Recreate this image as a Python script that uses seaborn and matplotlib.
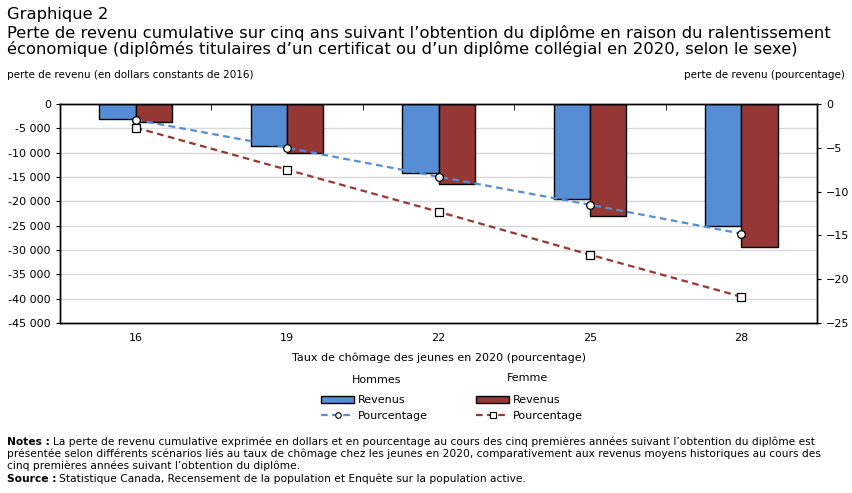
import numpy as np
import pandas as pd
import seaborn as sns
import matplotlib.pyplot as plt
from matplotlib.ticker import FuncFormatter, FixedLocator, MultipleLocator
from matplotlib.lines import Line2D
from matplotlib.patches import Patch

# données
taux = ['16', '19', '22', '25', '28']
revenu_hommes = [-3150, -8700, -14250, -19600, -25150]
revenu_femmes = [-3750, -10150, -16500, -23100, -29450]
pct_hommes = [-1.8, -5.0, -8.3, -11.5, -14.8]
pct_femmes = [-2.7, -7.5, -12.3, -17.2, -22.0]

bleu = '#558ed5'
rouge = '#953735'

sns.set_style('white')
plt.rcParams['font.family'] = ['DejaVu Sans']
plt.rcParams['text.color'] = 'black'
plt.rcParams['xtick.color'] = 'black'
plt.rcParams['ytick.color'] = 'black'
plt.rcParams['axes.labelcolor'] = 'black'

rev = pd.DataFrame({'taux': taux * 2,
                    'revenu': revenu_hommes + revenu_femmes,
                    'sexe': ['Hommes'] * 5 + ['Femme'] * 5})
pct = pd.DataFrame({'taux': taux * 2,
                    'pct': pct_hommes + pct_femmes,
                    'sexe': ['Hommes'] * 5 + ['Femme'] * 5})

fig = plt.figure(figsize=(8.52, 4.93), dpi=100)
ax = fig.add_axes([60 / 852, 1 - 323 / 493, 757 / 852, 219 / 493])

sns.barplot(data=rev, x='taux', y='revenu', hue='sexe', palette=[bleu, rouge], saturation=1,
            width=0.48, edgecolor='black', linewidth=1, ax=ax, legend=False, zorder=2)
ax.set_ylim(-45000, 0)
ax.set_xlim(-0.5, 4.5)
ax.yaxis.set_major_locator(MultipleLocator(5000))
ax.yaxis.set_major_formatter(FuncFormatter(lambda v, p: '0' if v == 0 else f'{int(v):,}'.replace(',', ' ')))
ax.grid(axis='y', color='#d9d9d9', linewidth=1, zorder=0)
ax.set_axisbelow(True)
ax.set_xlabel('Taux de chômage des jeunes en 2020 (pourcentage)', fontsize=8, labelpad=7)
ax.set_ylabel('')
ax.tick_params(axis='y', labelsize=8, length=3, left=True)
ax.tick_params(axis='x', which='major', labelsize=8, length=0, pad=7)
ax.xaxis.set_minor_locator(FixedLocator([0.5, 1.5, 2.5, 3.5]))
ax.tick_params(axis='x', which='minor', top=True, bottom=False, direction='in', length=4, color='black')
for s in ax.spines.values():
    s.set_color('black')
    s.set_linewidth(1)

ax2 = ax.twinx()
sns.pointplot(data=pct, x='taux', y='pct', hue='sexe', palette=[bleu, rouge],
              markers=['o', 's'], linestyles=['--', '--'], linewidth=1.6,
              markersize=5.5, ax=ax2, legend=False)
for ln in ax2.lines:
    ln.set_markerfacecolor('white')
    ln.set_markeredgecolor('black')
    ln.set_markeredgewidth(0.9)
    ln.set_dashes((3, 2))
    ln.set_zorder(5)
ax2.set_ylim(-25, 0)
ax2.set_xlim(-0.5, 4.5)
ax2.yaxis.set_major_locator(MultipleLocator(5))
ax2.set_ylabel('')
ax2.set_xlabel('')
ax2.tick_params(axis='y', labelsize=8, length=3, right=True)
for s in ax2.spines.values():
    s.set_color('black')
    s.set_linewidth(1)

# titres
fig.text(7 / 852, 1 - 7 / 493, 'Graphique 2', fontsize=11.8, va='top')
fig.text(7 / 852, 1 - 25 / 493,
         'Perte de revenu cumulative sur cinq ans suivant l’obtention du diplôme en raison du ralentissement\n'
         'économique (diplômés titulaires d’un certificat ou d’un diplôme collégial en 2020, selon le sexe)',
         fontsize=11.8, va='top', linespacing=1.02)
fig.text(7 / 852, 1 - 75 / 493, 'perte de revenu (en dollars constants de 2016)', fontsize=7.5, va='center')
fig.text(845 / 852, 1 - 75 / 493, 'perte de revenu (pourcentage)', fontsize=7.5, va='center', ha='right')

# légendes
fig.text(377 / 852, 1 - 380 / 493, 'Hommes', fontsize=8, ha='center', va='center')
fig.text(527 / 852, 1 - 378 / 493, 'Femme', fontsize=8, ha='center', va='center')
h_hommes = [Patch(facecolor=bleu, edgecolor='black', linewidth=1),
            Line2D([], [], color=bleu, ls=(0, (3, 2)), lw=1.6, marker='o', markersize=4,
                   markerfacecolor='white', markeredgecolor='black', markeredgewidth=0.8)]
h_femmes = [Patch(facecolor=rouge, edgecolor='black', linewidth=1),
            Line2D([], [], color=rouge, ls=(0, (3, 2)), lw=1.6, marker='s', markersize=4,
                   markerfacecolor='white', markeredgecolor='black', markeredgewidth=0.8)]
opts = dict(loc='upper left', frameon=False, fontsize=8, handlelength=3.0, handleheight=0.6,
            labelspacing=0.55, handletextpad=0.35, borderaxespad=0, borderpad=0)
lg1 = fig.legend(h_hommes, ['Revenus', 'Pourcentage'], bbox_to_anchor=(321 / 852, 1 - 395 / 493), **opts)
lg2 = fig.legend(h_femmes, ['Revenus', 'Pourcentage'], bbox_to_anchor=(476 / 852, 1 - 395 / 493), **opts)

# notes
fs = 7.7
fig.canvas.draw()
r = fig.canvas.get_renderer()
t = fig.text(7 / 852, 1 - 442 / 493, 'Notes :', fontsize=fs, fontweight='bold', va='center')
bb = t.get_window_extent(r)
fig.text(bb.x1 / fig.bbox.width + 3 / 852, 1 - 442 / 493,
         'La perte de revenu cumulative exprimée en dollars et en pourcentage au cours des cinq premières années suivant l’obtention du diplôme est',
         fontsize=fs, va='center')
fig.text(7 / 852, 1 - 454 / 493,
         'présentée selon différents scénarios liés au taux de chômage chez les jeunes en 2020, comparativement aux revenus moyens historiques au cours des',
         fontsize=fs, va='center')
fig.text(7 / 852, 1 - 466 / 493, 'cinq premières années suivant l’obtention du diplôme.', fontsize=fs, va='center')
t2 = fig.text(7 / 852, 1 - 479 / 493, 'Source :', fontsize=fs, fontweight='bold', va='center')
bb2 = t2.get_window_extent(r)
fig.text(bb2.x1 / fig.bbox.width + 3 / 852, 1 - 479 / 493,
         'Statistique Canada, Recensement de la population et Enquête sur la population active.',
         fontsize=fs, va='center')

fig.savefig('out.png', dpi=100)
